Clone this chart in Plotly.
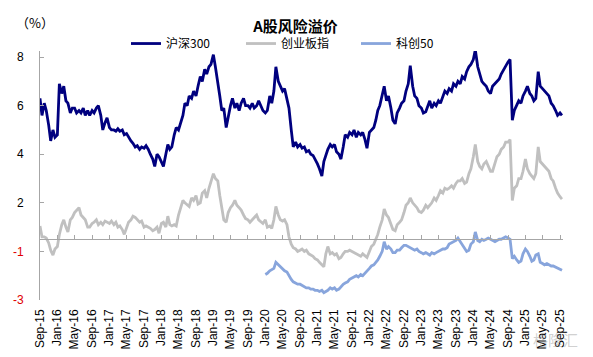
import pandas as pd
import plotly.graph_objects as go

# half-month observation dates (1st and 15th of each month), Sep 2015 - Sep 2025
dates = pd.date_range("2015-09-01", "2025-09-15", freq="SMS")

hs300 = [
    # 2015 Sep-Dec
    6.3, 5.6, 6.1, 5.8, 5.2, 4.55, 5.0, 4.7,
    # 2016
    4.8, 6.9, 6.5, 6.8, 6.2, 6.1, 5.7, 5.9, 5.9, 5.7, 5.8, 5.7,
    5.9, 5.6, 5.8, 5.6, 5.8, 5.7, 5.9, 6.0, 5.6, 5.0, 5.3, 5.5,
    # 2017
    5.1, 5.0, 5.0, 4.95, 5.05, 4.95, 5.0, 4.8, 4.85, 4.7, 4.55, 4.45,
    4.3, 4.35, 4.2, 4.3, 4.25, 4.35, 4.2, 4.0, 3.8, 3.5, 4.0, 3.9,
    # 2018
    3.7, 3.5, 4.0, 4.4, 4.2, 4.3, 4.8, 5.1, 5.0, 5.3, 5.6, 6.1,
    6.0, 6.4, 6.3, 6.6, 6.4, 6.8, 7.2, 7.0, 7.5, 7.3, 7.6, 7.7,
    # 2019
    8.1, 7.6, 7.0, 6.4, 5.8, 5.9, 5.1, 5.6, 6.0, 6.3, 5.9, 6.1,
    5.8, 6.1, 6.3, 6.0, 6.0, 5.9, 6.1, 5.9, 6.0, 6.2, 6.0, 5.8,
    # 2020
    5.7, 5.8, 6.4, 6.1, 6.6, 7.6, 7.0, 6.8, 6.6, 6.7, 6.2, 5.9,
    5.0, 4.3, 4.5, 4.3, 4.4, 4.25, 4.3, 4.1, 4.15, 4.0, 3.95, 3.8,
    # 2021
    3.6, 3.4, 3.1, 3.7, 4.0, 4.2, 4.4, 4.3, 4.4, 4.1, 4.0, 3.8,
    4.3, 4.8, 4.7, 4.9, 4.8, 5.0, 4.7, 4.9, 4.8, 4.9, 4.6, 4.25,
    # 2022
    4.9, 5.0, 5.1, 5.4, 5.8, 6.0, 6.4, 6.8, 6.2, 6.4, 5.9, 5.4,
    5.25, 5.7, 5.9, 6.1, 6.2, 6.6, 6.9, 7.65, 6.8, 6.4, 6.3, 6.0,
    # 2023
    5.9, 5.7, 5.75, 6.0, 6.2, 5.9, 6.1, 6.0, 6.2, 6.1, 6.4, 6.6,
    6.5, 6.7, 6.6, 6.9, 6.8, 7.0, 6.9, 7.2, 7.1, 7.4, 7.6, 7.7,
    # 2024
    7.9, 8.3, 7.6, 7.3, 7.0, 6.9, 6.8, 6.6, 6.5, 6.8, 6.9, 7.0,
    7.1, 7.3, 7.5, 7.6, 7.8, 7.9, 5.4, 5.8, 6.0, 6.2, 6.1, 6.4,
    # 2025 Jan-Sep
    6.6, 6.8, 6.5, 6.4, 6.2, 6.3, 7.4, 6.8, 6.7, 6.6, 6.5, 6.4,
    6.1, 6.0, 5.8, 5.6, 5.7, 5.6,
]

gem = [
    # 2015 Sep-Dec
    1.05, 0.6, 0.6, 0.55, 0.35, 0.05, -0.15, 0.1,
    # 2016
    0.2, 0.7, 1.1, 1.3, 1.0, 0.8, 1.3, 1.4, 1.6, 1.7, 1.8, 1.5,
    1.4, 1.3, 1.0, 1.0, 1.15, 1.2, 1.3, 1.1, 1.2, 1.1, 1.25, 1.2,
    # 2017
    1.15, 1.25, 1.1, 1.2, 1.0, 1.05, 0.9, 0.7, 1.0, 1.2, 1.3, 1.45,
    1.4, 1.3, 1.2, 1.25, 1.0, 1.05, 1.0, 0.95, 0.85, 0.9, 1.0, 0.75,
    # 2018
    1.15, 1.2, 1.0, 1.45, 1.1, 1.05, 1.1, 1.05, 1.5, 1.8, 2.1, 2.0,
    1.9, 1.85, 2.2, 2.1, 2.3, 1.95, 2.0, 2.4, 2.5, 2.2, 2.6, 2.9,
    # 2019
    3.2, 3.0, 2.9, 2.3, 1.8, 1.3, 1.2, 1.6, 1.8, 1.9, 2.1, 1.9,
    1.8, 1.7, 1.5, 1.35, 1.3, 1.2, 1.3, 1.4, 1.5, 1.3, 1.2, 1.15,
    # 2020
    1.3, 1.0, 1.05, 0.95, 1.3, 1.85, 1.5, 1.3, 1.25, 1.3, 1.1, 0.6,
    0.3, 0.15, 0.1, 0.0, 0.05, 0.1, 0.0, 0.05, -0.1, -0.15, -0.2, -0.3,
    # 2021
    -0.35, -0.45, -0.55, -0.63, -0.1, 0.2, -0.1, -0.05, -0.15, -0.1, -0.3, -0.25,
    -0.1, 0.0, 0.0, 0.05, 0.0, -0.05, -0.1, -0.15, -0.2, -0.1, -0.2, -0.25,
    # 2022
    0.0, 0.2, 0.3, 0.5, 0.7, 1.0, 1.3, 1.75, 1.5, 1.4, 1.1, 0.9,
    0.85, 1.1, 1.2, 1.3, 1.6, 1.9, 2.0, 2.2, 2.0, 1.9, 1.8, 1.65,
    # 2023
    1.6, 1.7, 1.9, 1.8, 1.9, 2.0, 2.2, 2.1, 2.3, 2.5, 2.4, 2.6,
    2.55, 2.6, 2.7, 2.6, 2.8, 2.9, 2.9, 3.0, 2.8, 2.85, 3.2, 3.4,
    # 2024
    3.9, 4.4, 3.7, 3.5, 3.4, 3.6, 3.7, 3.5, 3.3, 3.3, 3.6, 3.9,
    4.0, 4.2, 4.3, 4.5, 4.5, 4.6, 2.1, 2.6, 2.7, 3.0, 3.0, 3.3,
    # 2025 Jan-Sep
    3.8, 3.4, 3.2, 3.1, 3.0, 3.2, 4.3, 3.7, 3.6, 3.5, 3.4, 3.3,
    3.0, 2.9, 2.6, 2.4, 2.25, 2.15,
]

kc50_start = "2020-01-01"
kc50 = [
    # 2020
    -0.95, -0.9, -0.8, -0.75, -0.7, -0.45, -0.55, -0.6, -0.7, -0.8, -0.85, -1.0,
    -1.15, -1.25, -1.3, -1.35, -1.35, -1.4, -1.45, -1.5, -1.5, -1.55, -1.55, -1.6,
    # 2021
    -1.6, -1.65, -1.6, -1.7, -1.65, -1.6, -1.5, -1.55, -1.5, -1.6, -1.55, -1.45,
    -1.35, -1.3, -1.25, -1.15, -1.1, -1.05, -1.0, -1.05, -0.95, -1.0, -0.9, -0.85,
    # 2022
    -0.7, -0.6, -0.55, -0.45, -0.35, -0.2, 0.0, 0.4, 0.1, 0.2, 0.1, -0.05,
    -0.05, 0.05, 0.05, 0.15, 0.25, 0.25, 0.2, 0.15, 0.1, 0.05, 0.1, 0.0,
    # 2023
    -0.05, -0.1, -0.05, -0.1, -0.15, -0.05, -0.1, -0.05, 0.0, 0.05, 0.1, 0.1,
    0.15, 0.3, 0.35, 0.4, 0.45, 0.55, 0.4, 0.3, 0.1, 0.0, 0.05, 0.3,
    # 2024
    0.4, 0.8, 0.45, 0.4, 0.5, 0.45, 0.5, 0.55, 0.5, 0.45, 0.4, 0.45,
    0.5, 0.5, 0.55, 0.6, 0.55, 0.5, -0.3, -0.2, -0.35, -0.45, -0.4, -0.1,
    # 2025 Jan-Sep
    0.1, 0.0, -0.2, -0.4, -0.35, -0.15, -0.1, -0.45, -0.5, -0.55, -0.5, -0.55,
    -0.6, -0.6, -0.65, -0.7, -0.75, -0.78,
]

tick_dates = pd.date_range("2015-09-01", periods=31, freq="4MS")
tick_labels = [
    "Sep-15", "Jan-16", "May-16", "Sep-16", "Jan-17", "May-17", "Sep-17",
    "Jan-18", "May-18", "Sep-18", "Jan-19", "May-19", "Sep-19", "Jan-20",
    "May-20", "Sep-20", "Jan-21", "May-21", "Sep-21", "Jan-22", "May-22",
    "Sep-22", "Jan-23", "May-23", "Sep-23", "Jan-24", "May-24", "Sep-24",
    "Jan-25", "May-25", "Sep-25",
]

y_tickvals = [-2, 0, 2, 4, 6, 8]
y_ticklabels = ["-3", "-1", "2", "4", "6", "8"]
y_red_labels = {"-3", "-1"}

series_names = ["沪深300", "创业板指", "科创50"]
series_colors = ["#00007F", "#C0C0C0", "#88A5DC"]

Y_MIN, Y_MAX = -2, 8.25
AXIS_CROSS = 0.5
FONT = "Liberation Sans, Arial, Noto Sans CJK SC, sans-serif"

kc50_dates = dates[dates >= kc50_start]

fig = go.Figure()
fig.add_trace(go.Scatter(x=dates, y=hs300, mode="lines", name=series_names[0],
                         line=dict(color=series_colors[0], width=2.8)))
fig.add_trace(go.Scatter(x=dates, y=gem, mode="lines", name=series_names[1],
                         line=dict(color=series_colors[1], width=2.8)))
fig.add_trace(go.Scatter(x=kc50_dates, y=kc50, mode="lines", name=series_names[2],
                         xaxis="x2", line=dict(color=series_colors[2], width=2.8)))

ticktext_y = [f"<span style='color:#E00000'>{t}</span>" if t in y_red_labels else t
              for t in y_ticklabels]

# the page body keeps the browser's default 8px margin, so the figure is sized to
# the visible part of the 593x357 window
fig.update_layout(
    width=585, height=349,
    margin=dict(l=32, r=30, t=43, b=57, autoexpand=False),
    paper_bgcolor="white", plot_bgcolor="white",
    font=dict(family=FONT, size=12, color="black"),
    title=dict(text="<b>A股风险溢价</b>", x=0.4915, xanchor="center",
               y=0.947, yanchor="middle",
               font=dict(size=15, family="Noto Sans CJK SC, sans-serif", color="black")),
    showlegend=True,
    legend=dict(orientation="h", x=0.1644, xanchor="left", y=1.030, yanchor="middle",
                font=dict(size=12, family="Noto Sans CJK SC, Liberation Sans, sans-serif"),
                bgcolor="rgba(0,0,0,0)", entrywidth=70, entrywidthmode="pixels",
                itemwidth=30, traceorder="normal"),
    xaxis=dict(type="date", range=["2015-09-01", "2025-09-22"],
               tickvals=tick_dates, ticktext=tick_labels, tickangle=-90,
               showline=False, ticks="", showgrid=False, zeroline=False,
               tickfont=dict(size=12), ticklabelstandoff=6),
    xaxis2=dict(type="date", overlaying="x", matches="x", anchor="free",
                position=(AXIS_CROSS - Y_MIN) / (Y_MAX - Y_MIN), side="bottom",
                showline=True, linecolor="#A6A6A6", linewidth=1,
                ticks="inside", ticklen=4, tickcolor="#A6A6A6",
                tickvals=tick_dates, showticklabels=False,
                showgrid=False, zeroline=False),
    yaxis=dict(range=[Y_MIN, Y_MAX], tickvals=y_tickvals, ticktext=ticktext_y,
               showline=True, linecolor="#A6A6A6", linewidth=1,
               ticks="inside", ticklen=4, tickcolor="#A6A6A6",
               showgrid=False, zeroline=False, ticklabelstandoff=13,
               tickfont=dict(size=12)),
)

fig.add_annotation(text="（%）", xref="paper", yref="paper", x=-0.0096, y=1.114,
                   xanchor="center", yanchor="middle", showarrow=False,
                   font=dict(size=13, family="Noto Sans CJK SC, sans-serif"))
fig.add_annotation(text="格隆汇", xref="paper", yref="paper", x=0.985, y=-0.16,
                   xanchor="center", yanchor="middle", showarrow=False,
                   font=dict(size=15, family="Noto Sans CJK SC, sans-serif",
                             color="rgba(150,150,150,0.45)"))

fig.write_html("out.html")
